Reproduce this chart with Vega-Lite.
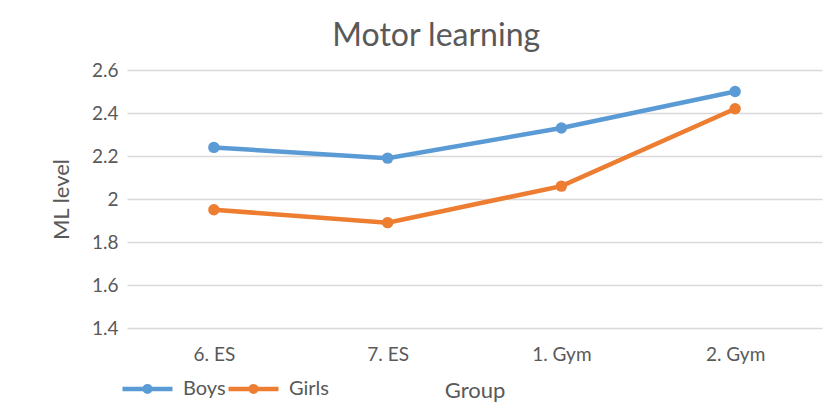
{
  "$schema": "https://vega.github.io/schema/vega-lite/v6.json",
  "autosize": {"type": "none"},
  "width": 695,
  "height": 258,
  "padding": {"left": 127, "top": 70, "right": 9, "bottom": 82},
  "background": "white",
  "title": {"text": "Motor learning", "fontSize": 32, "font": "Lato", "fontWeight": "normal", "color": "#595959", "anchor": "middle", "frame": "bounds", "offset": 8},
  "data": {"values": [
    {"Group": "6. ES", "Sex": "Boys", "ML": 2.24},
    {"Group": "7. ES", "Sex": "Boys", "ML": 2.19},
    {"Group": "1. Gym", "Sex": "Boys", "ML": 2.33},
    {"Group": "2. Gym", "Sex": "Boys", "ML": 2.50},
    {"Group": "6. ES", "Sex": "Girls", "ML": 1.95},
    {"Group": "7. ES", "Sex": "Girls", "ML": 1.89},
    {"Group": "1. Gym", "Sex": "Girls", "ML": 2.06},
    {"Group": "2. Gym", "Sex": "Girls", "ML": 2.42}
  ]},
  "encoding": {
    "x": {"field": "Group", "type": "nominal", "sort": ["6. ES", "7. ES", "1. Gym", "2. Gym"],
      "scale": {"type": "point", "padding": 0.5},
      "axis": {"title": "Group", "labelAngle": 0, "domain": false, "ticks": false, "grid": false, "labelPadding": 17, "titlePadding": 16, "labelFontSize": 19, "titleFontSize": 22, "labelColor": "#595959", "titleColor": "#595959", "labelFont": "Lato", "titleFont": "Lato", "titleFontWeight": "normal"}},
    "y": {"field": "ML", "type": "quantitative", "scale": {"domain": [1.4, 2.6], "nice": false, "zero": false},
      "axis": {"title": "ML level", "values": [1.4, 1.6, 1.8, 2.0, 2.2, 2.4, 2.6], "format": "~g", "domain": false, "ticks": false, "gridColor": "#d9d9d9", "gridWidth": 1.5, "labelPadding": 9, "titlePadding": 18, "labelFontSize": 19, "titleFontSize": 22, "labelColor": "#595959", "titleColor": "#595959", "labelFont": "Lato", "titleFont": "Lato", "titleFontWeight": "normal"}},
    "color": {"field": "Sex", "type": "nominal", "scale": {"domain": ["Boys", "Girls"], "range": ["#5B9BD5", "#ED7D31"]},
      "legend": {"title": null, "orient": "none", "legendX": -7, "legendY": 291, "direction": "horizontal", "symbolType": "M-1,0L1,0M-0.11,0a0.11,0.11 0 1,0 0.22,0a0.11,0.11 0 1,0 -0.22,0", "symbolSize": 2500, "symbolStrokeWidth": 4.5, "labelFontSize": 20, "labelColor": "#595959", "labelFont": "Lato", "columnPadding": -8, "labelOffset": 8}}
  },
  "layer": [
    {"mark": {"type": "line", "strokeWidth": 4.5}},
    {"mark": {"type": "point", "filled": true, "size": 130, "opacity": 1}}
  ],
  "config": {"view": {"stroke": null}}
}
